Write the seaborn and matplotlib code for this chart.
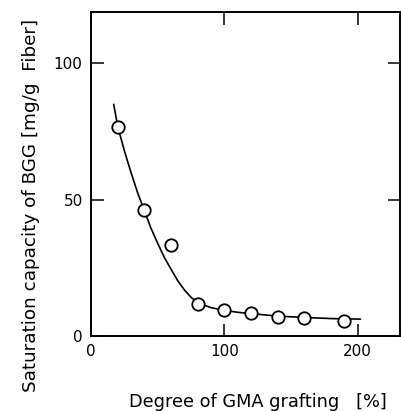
import matplotlib
matplotlib.use("Agg")
import matplotlib.pyplot as plt
import seaborn as sns
import pandas as pd

# Measured points
grafting = [20, 40, 60, 80, 100, 120, 140, 160, 190]
capacity = [76.6, 46.1, 33.5, 11.9, 9.6, 8.6, 7.1, 6.5, 5.6]

# Fitted curve
curve_x = [17, 20, 25, 30, 35, 40, 45, 50, 55, 60, 65, 70, 75, 80, 90, 100, 110, 120, 140, 160, 180, 202]
curve_y = [85, 77, 68, 60, 52.5, 46, 39.5, 34, 28.8, 24.5, 20.3, 16.9, 14.2, 12.2, 10.4, 9.4, 8.7, 8.2, 7.3, 6.8, 6.4, 6.2]

xticks = [0, 100, 200]
yticks = [0, 50, 100]

sns.set_style("white")
plt.rcParams["font.family"] = ["DejaVu Sans"]
plt.rcParams["text.color"] = "black"
plt.rcParams["axes.labelcolor"] = "black"

W, H = 401, 411
fig = plt.figure(figsize=(W / 100, H / 100), dpi=100)
ax = fig.add_axes([91 / W, (H - 336) / H, (400.5 - 91) / W, (336 - 11.7) / H])

df_c = pd.DataFrame({"x": curve_x, "y": curve_y})
df_p = pd.DataFrame({"x": grafting, "y": capacity})
sns.lineplot(data=df_c, x="x", y="y", ax=ax, color="black", linewidth=1.2, sort=True)
sns.scatterplot(data=df_p, x="x", y="y", ax=ax, s=80, facecolor="white",
                edgecolor="black", linewidth=1.3, zorder=3)

ax.set_xlim(0, 232)
ax.set_ylim(0, 119)
ax.set_xticks(xticks)
ax.set_yticks(yticks)
ax.set_xticklabels([str(t) for t in xticks], fontsize=11)
ax.set_yticklabels([str(t) for t in yticks], fontsize=11)
ax.tick_params(direction="in", length=9, width=1.1, top=True, right=True,
               bottom=True, left=True,
               labeltop=False, labelright=False, labelbottom=True, labelleft=True,
               pad=6, colors="black")
for s in ax.spines.values():
    s.set_visible(True)
    s.set_linewidth(1.4)
    s.set_color("black")

ax.set_xlabel("Degree of GMA grafting   [%]", fontsize=12.8, color="black")
ax.set_ylabel("Saturation capacity of BGG [mg/g  Fiber]", fontsize=13.2, color="black")
aw = 400.5 - 91
ah = 336 - 11.7
ax.xaxis.set_label_coords((258 - 91) / aw, -(393 - 336) / ah)
ax.yaxis.set_label_coords(-(91 - 40) / aw, (336 - 205) / ah)

fig.savefig("out.png", dpi=100)
